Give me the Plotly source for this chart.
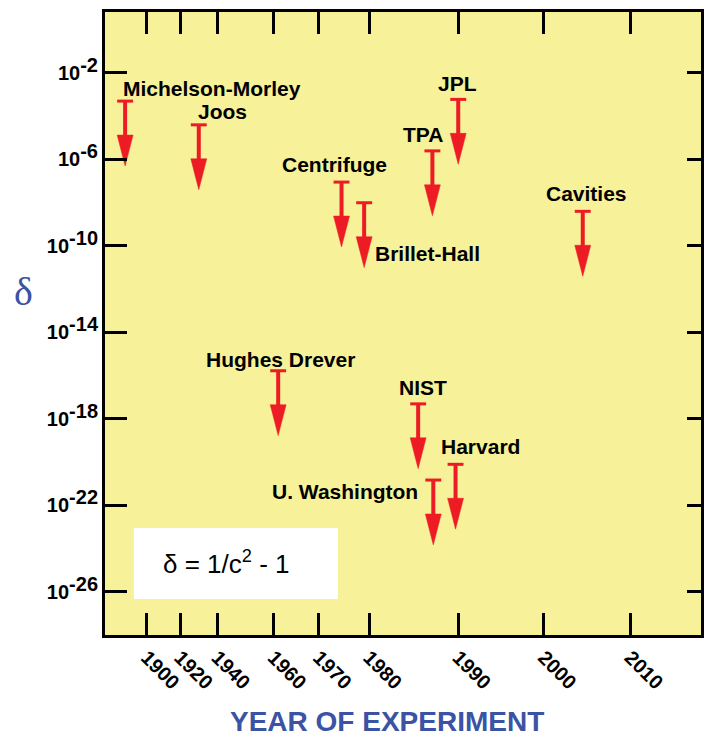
import numpy as np
import plotly.graph_objects as go

# Upper bounds on delta from tests of local Lorentz invariance
EXPERIMENTS = ["Michelson-Morley", "Joos", "Hughes Drever", "Centrifuge", "Brillet-Hall",
               "NIST", "TPA", "U. Washington", "Harvard", "JPL", "Cavities"]
YEARS = [1887, 1930, 1961, 1974.5, 1979, 1985.5, 1987.1, 1987.2, 1989.7, 1990, 2004.5]
DELTA_BOUND = [5e-4, 4e-5, 1.7e-16, 9e-8, 1e-8, 5e-18, 2.5e-6, 1.5e-21, 8e-21, 6e-4, 4e-9]

# Labelled years of the non-uniform time axis and their stops along it
AXIS_YEARS = [1900, 1920, 1940, 1960, 1970, 1980, 1990, 2000, 2010]
AXIS_STOPS = [42, 75.5, 113, 169.5, 215, 265.5, 355, 441, 528]
X_RANGE = [0, 599]

Y_TICK_EXP = [-2, -6, -10, -14, -18, -22, -26]
Y_RANGE = [-27.99, 0.82]

# label placement (pixel offsets from the top of each arrow)
LABEL_SHIFT = {
    "Michelson-Morley": (87, 13), "Joos": (24, 13), "Hughes Drever": (2.5, 11),
    "Centrifuge": (-7, 18), "Brillet-Hall": (63.5, -51), "NIST": (5, 16),
    "TPA": (-9, 16), "U. Washington": (-88, -11), "Harvard": (25, 18),
    "JPL": (-0.5, 16), "Cavities": (3.3, 18),
}

RED = "#ED1C24"
BLUE = "#3A53A4"
YELLOW = "#F7F199"
FONT = "Liberation Sans, Arial, Helvetica, sans-serif"


def year_to_axis(years):
    """Piecewise-linear mapping of years onto the warped time axis."""
    yrs = np.asarray(years, dtype=float)
    pos = np.interp(yrs, AXIS_YEARS, AXIS_STOPS)
    lo_slope = (AXIS_STOPS[1] - AXIS_STOPS[0]) / (AXIS_YEARS[1] - AXIS_YEARS[0])
    hi_slope = (AXIS_STOPS[-1] - AXIS_STOPS[-2]) / (AXIS_YEARS[-1] - AXIS_YEARS[-2])
    lo = yrs < AXIS_YEARS[0]
    hi = yrs > AXIS_YEARS[-1]
    pos[lo] = AXIS_STOPS[0] + (yrs[lo] - AXIS_YEARS[0]) * lo_slope
    pos[hi] = AXIS_STOPS[-1] + (yrs[hi] - AXIS_YEARS[-1]) * hi_slope
    return pos


xs = year_to_axis(YEARS)
bounds = np.asarray(DELTA_BOUND)

ARROW_DECADES = 3.0      # arrow length below each bound
HEAD_DECADES = 1.43      # arrowhead length
CAP_HALF = 8.0           # half-width of the bar at the bound
HEAD_HALF = 8.0          # half-width of the arrowhead

cap_x, cap_y, shaft_x, shaft_y, head_x, head_y = [], [], [], [], [], []
for x, b in zip(xs, bounds):
    tip = b * 10 ** (-ARROW_DECADES)
    base = b * 10 ** (-(ARROW_DECADES - HEAD_DECADES))
    cap_x += [x - CAP_HALF, x + CAP_HALF, None]
    cap_y += [b, b, None]
    shaft_x += [x, x, None]
    shaft_y += [b, base * 0.8, None]
    head_x += [x - HEAD_HALF, x + HEAD_HALF, x, x - HEAD_HALF, None]
    head_y += [base, base, tip, base, None]

fig = go.Figure()
fig.add_trace(go.Scatter(x=shaft_x, y=shaft_y, mode="lines",
                         line=dict(color=RED, width=4), hoverinfo="skip", showlegend=False))
fig.add_trace(go.Scatter(x=cap_x, y=cap_y, mode="lines",
                         line=dict(color=RED, width=3), hoverinfo="skip", showlegend=False))
fig.add_trace(go.Scatter(x=head_x, y=head_y, mode="lines", fill="toself", fillcolor=RED,
                         line=dict(color=RED, width=0.5), hoverinfo="skip", showlegend=False))
# carrier for the right-hand tick marks
fig.add_trace(go.Scatter(x=[None], y=[None], yaxis="y2", showlegend=False, hoverinfo="skip"))

for name, x, b in zip(EXPERIMENTS, xs, bounds):
    dx, dy = LABEL_SHIFT[name]
    fig.add_annotation(x=x, y=np.log10(b), xref="x", yref="y", text=name, showarrow=False,
                       xshift=dx, yshift=dy, xanchor="center", yanchor="middle",
                       font=dict(family=FONT, size=21, color="black", weight="bold"))

y_tickvals = [10.0 ** e for e in Y_TICK_EXP]
y_ticktext = [f'10<sup><span style="font-size:20px">-{abs(e)}</span></sup>' for e in Y_TICK_EXP]

fig.update_layout(
    width=704, height=738,
    margin=dict(l=105, r=0, t=12, b=103),
    paper_bgcolor="white", plot_bgcolor=YELLOW,
    showlegend=False,
    xaxis=dict(range=X_RANGE, tickvals=AXIS_STOPS, ticktext=[str(y) for y in AXIS_YEARS],
               tickangle=45, ticks="inside", ticklen=22, tickwidth=3, tickcolor="black",
               showline=True, linewidth=3, linecolor="black", mirror="ticks",
               showgrid=False, zeroline=False,
               tickfont=dict(family=FONT, size=20, color="black", weight="bold")),
    yaxis=dict(type="log", range=Y_RANGE, tickvals=y_tickvals, ticktext=y_ticktext,
               ticks="inside", ticklen=22, tickwidth=3, tickcolor="black",
               showline=True, linewidth=3, linecolor="black", mirror=True,
               showgrid=False, zeroline=False,
               tickfont=dict(family=FONT, size=20, color="black", weight="bold")),
    yaxis2=dict(type="log", range=Y_RANGE, tickvals=y_tickvals, overlaying="y", side="right",
                anchor="x", ticks="inside", ticklen=14, tickwidth=3, tickcolor="black",
                showticklabels=False, showline=False, showgrid=False, zeroline=False),
)

# formula box
fig.add_shape(type="rect", xref="paper", yref="paper", x0=0.0484, x1=0.3907, y0=0.0578, y1=0.1717,
              fillcolor="white", line=dict(width=0), layer="above")
fig.add_annotation(xref="paper", yref="paper", x=0.0935, y=0.1156, xanchor="left", yanchor="middle",
                   text="δ = 1/c<sup>2</sup> - 1", showarrow=False,
                   font=dict(family=FONT, size=26, color="black"))

# axis titles
fig.add_annotation(xref="paper", yref="paper", x=-0.137, y=0.552, text="δ", showarrow=False,
                   xanchor="center", yanchor="middle",
                   font=dict(family="Liberation Serif, Times New Roman, serif", size=40, color=BLUE))
fig.add_annotation(xref="paper", yref="paper", x=0.4725, y=-0.1396, text="YEAR OF EXPERIMENT",
                   showarrow=False, xanchor="center", yanchor="middle",
                   font=dict(family=FONT, size=28, color=BLUE, weight="bold"))

fig.write_html("out.html")
